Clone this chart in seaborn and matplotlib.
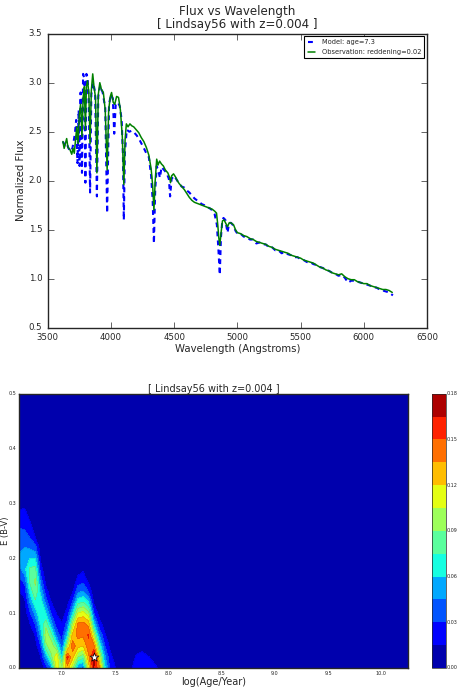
import numpy as np
import pandas as pd
import matplotlib
matplotlib.use('Agg')
import matplotlib.pyplot as plt
import seaborn as sns

# ---- Spectrum: observation (green) ----
obs_wave = [3620, 3630, 3640, 3650, 3660, 3675, 3690, 3700, 3710, 3720, 3730, 3740, 3750, 3760, 3771,
            3780, 3790, 3798, 3806, 3815, 3825, 3835, 3845, 3856, 3866, 3878, 3889, 3900, 3912, 3925,
            3940, 3955, 3970, 3982, 3995, 4005, 4018, 4030, 4045, 4060, 4075, 4090, 4102, 4112, 4122,
            4135, 4150, 4165, 4180, 4200, 4220, 4240, 4260, 4280, 4300, 4318, 4330, 4340, 4350, 4362,
            4372, 4385, 4400, 4415, 4430, 4450, 4465, 4471, 4480, 4495, 4510, 4525, 4540, 4560, 4580,
            4600, 4620, 4640, 4660, 4680, 4700, 4720, 4740, 4760, 4780, 4800, 4820, 4835, 4845, 4853,
            4861, 4872, 4882, 4895, 4910, 4922, 4935, 4950, 4970, 4985,
            5000, 5025, 5050, 5075, 5100, 5125, 5150, 5175, 5200, 5225, 5250, 5275, 5300, 5325, 5350,
            5375, 5400, 5425, 5450, 5475, 5500, 5525, 5550, 5575, 5600, 5625, 5650, 5675, 5700, 5725,
            5750, 5775, 5800, 5825, 5850, 5875, 5900, 5925, 5950, 5975, 6000, 6025, 6050, 6075, 6100,
            6125, 6150, 6175, 6200, 6225]
obs_flux = [2.40, 2.33, 2.38, 2.43, 2.34, 2.32, 2.27, 2.33, 2.28, 2.42, 2.55, 2.38, 2.68, 2.78, 2.45,
            2.85, 2.96, 2.52, 2.96, 3.02, 2.90, 2.38, 2.92, 3.09, 2.96, 2.85, 2.08, 2.88, 3.00, 2.93,
            2.90, 2.72, 2.11, 2.72, 2.86, 2.90, 2.80, 2.78, 2.86, 2.85, 2.72, 2.45, 1.96, 2.42, 2.58,
            2.55, 2.58, 2.56, 2.55, 2.52, 2.49, 2.44, 2.40, 2.34, 2.26, 2.12, 1.95, 1.70, 2.00, 2.22,
            2.16, 2.20, 2.17, 2.15, 2.11, 2.08, 2.03, 1.98, 2.05, 2.07, 2.04, 2.00, 1.97, 1.94, 1.91,
            1.87, 1.83, 1.80, 1.78, 1.77, 1.76, 1.75, 1.74, 1.73, 1.72, 1.71, 1.69, 1.67, 1.55, 1.42,
            1.34, 1.48, 1.59, 1.60, 1.56, 1.53, 1.57, 1.57, 1.55, 1.50,
            1.47, 1.46, 1.44, 1.43, 1.41, 1.40, 1.38, 1.37, 1.36, 1.35, 1.33, 1.32, 1.30, 1.29, 1.28,
            1.27, 1.26, 1.24, 1.23, 1.22, 1.21, 1.19, 1.18, 1.17, 1.16, 1.14, 1.12, 1.11, 1.09, 1.08,
            1.06, 1.05, 1.04, 1.05, 1.02, 1.00, 0.99, 0.99, 0.97, 0.96, 0.95, 0.95, 0.93, 0.92, 0.91,
            0.90, 0.89, 0.89, 0.88, 0.86]

# ---- Spectrum: model (blue dashed) ----
mod_wave = [3620, 3635, 3650, 3665, 3680, 3695, 3705, 3715, 3725, 3735, 3745, 3752, 3760, 3771, 3780,
            3790, 3798, 3806, 3815, 3825, 3835, 3845, 3860, 3875, 3889, 3900, 3915, 3935, 3955, 3970,
            3985, 4000, 4015, 4026, 4038, 4055, 4070, 4085, 4095, 4102, 4110, 4125, 4145, 4165, 4185,
            4205, 4225, 4245, 4265, 4280, 4300, 4318, 4330, 4340, 4350, 4362, 4375, 4388, 4400, 4420,
            4440, 4458, 4468, 4480, 4500, 4520, 4540, 4560, 4580, 4600, 4620, 4640, 4660, 4680, 4700,
            4720, 4740, 4760, 4780, 4800, 4820, 4838, 4850, 4861, 4870, 4880, 4890, 4905, 4922, 4935,
            4950, 4970, 4985,
            5000, 5025, 5050, 5075, 5100, 5125, 5150, 5175, 5200, 5225, 5250, 5275, 5300, 5325, 5350,
            5375, 5400, 5425, 5450, 5475, 5500, 5525, 5550, 5575, 5600, 5625, 5650, 5675, 5700, 5725,
            5750, 5775, 5800, 5825, 5850, 5875, 5900, 5925, 5950, 5975, 6000, 6025, 6050, 6075, 6100,
            6125, 6150, 6175, 6200, 6230]
mod_flux = [2.40, 2.36, 2.38, 2.33, 2.30, 2.33, 2.40, 2.48, 2.62, 2.18, 2.72, 2.15, 2.90, 2.08, 3.09,
            3.04, 1.98, 3.09, 3.06, 2.82, 1.88, 2.88, 3.00, 2.90, 1.84, 2.86, 2.97, 2.90, 2.74, 1.67,
            2.78, 2.88, 2.84, 2.48, 2.78, 2.80, 2.76, 2.62, 2.25, 1.60, 2.28, 2.52, 2.50, 2.51, 2.49,
            2.46, 2.42, 2.37, 2.32, 2.28, 2.24, 2.05, 1.80, 1.36, 1.90, 2.15, 2.10, 2.03, 2.14, 2.11,
            2.08, 2.02, 1.84, 2.02, 2.05, 2.01, 1.97, 1.94, 1.93, 1.90, 1.88, 1.85, 1.82, 1.80, 1.78,
            1.76, 1.75, 1.73, 1.72, 1.70, 1.66, 1.55, 1.30, 1.04, 1.42, 1.58, 1.62, 1.60, 1.47, 1.57,
            1.57, 1.54, 1.49,
            1.46, 1.46, 1.43, 1.42, 1.40, 1.40, 1.36, 1.37, 1.35, 1.35, 1.32, 1.32, 1.29, 1.29, 1.26,
            1.27, 1.25, 1.24, 1.22, 1.22, 1.20, 1.19, 1.17, 1.17, 1.15, 1.14, 1.12, 1.11, 1.09, 1.08,
            1.06, 1.05, 1.03, 1.04, 1.01, 0.96, 0.98, 0.98, 0.97, 0.96, 0.95, 0.94, 0.93, 0.91, 0.91,
            0.89, 0.88, 0.87, 0.86, 0.83]

model_age = 7.3
obs_reddening = 0.02

# ---- Likelihood map (units of 1e-3) ----
# columns: log age 6.60 ... 7.95 (step 0.05); rows: E(B-V) 0.00 ... 0.30 (step 0.02)
block_ages = [6.60, 6.65, 6.70, 6.75, 6.80, 6.85, 6.90, 6.95, 7.00, 7.05, 7.10, 7.15, 7.20, 7.25,
              7.30, 7.35, 7.40, 7.45, 7.50, 7.55, 7.60, 7.65, 7.70, 7.75, 7.80, 7.85, 7.90, 7.95]
block_ebv = [0.00, 0.02, 0.04, 0.06, 0.08, 0.10, 0.12, 0.14, 0.16, 0.18, 0.20, 0.22, 0.24, 0.26, 0.28, 0.30]
prob_milli = [
    [0, 0, 0, 0, 4, 22, 45, 110, 95, 130, 95, 45, 40, 110, 165, 140, 65, 30, 16, 4, 0, 12, 25, 27, 24, 20, 15, 5],
    [0, 0, 0, 2, 15, 50, 85, 120, 60, 155, 125, 90, 80, 130, 172, 110, 50, 20, 9, 1, 0, 5, 18, 22, 17, 12, 6, 0],
    [0, 0, 0, 8, 30, 85, 100, 75, 35, 100, 145, 125, 120, 145, 140, 75, 32, 12, 2, 0, 0, 0, 5, 8, 4, 2, 0, 0],
    [0, 0, 3, 16, 48, 100, 80, 40, 22, 60, 125, 140, 138, 152, 100, 45, 18, 4, 0, 0, 0, 0, 0, 0, 0, 0, 0, 0],
    [0, 2, 14, 30, 65, 85, 50, 22, 16, 35, 95, 138, 140, 130, 60, 22, 8, 0, 0, 0, 0, 0, 0, 0, 0, 0, 0, 0],
    [2, 5, 28, 50, 75, 60, 28, 14, 8, 20, 60, 105, 110, 95, 30, 9, 0, 0, 0, 0, 0, 0, 0, 0, 0, 0, 0, 0],
    [6, 12, 45, 72, 70, 38, 15, 6, 0, 10, 30, 70, 75, 60, 12, 2, 0, 0, 0, 0, 0, 0, 0, 0, 0, 0, 0, 0],
    [15, 20, 65, 88, 55, 20, 6, 0, 0, 0, 12, 40, 45, 28, 3, 0, 0, 0, 0, 0, 0, 0, 0, 0, 0, 0, 0, 0],
    [27, 35, 80, 92, 38, 9, 0, 0, 0, 0, 4, 20, 25, 10, 0, 0, 0, 0, 0, 0, 0, 0, 0, 0, 0, 0, 0, 0],
    [40, 55, 78, 80, 22, 3, 0, 0, 0, 0, 0, 8, 12, 0, 0, 0, 0, 0, 0, 0, 0, 0, 0, 0, 0, 0, 0, 0],
    [47, 58, 60, 60, 12, 0, 0, 0, 0, 0, 0, 0, 3, 0, 0, 0, 0, 0, 0, 0, 0, 0, 0, 0, 0, 0, 0, 0],
    [42, 45, 42, 35, 5, 0, 0, 0, 0, 0, 0, 0, 0, 0, 0, 0, 0, 0, 0, 0, 0, 0, 0, 0, 0, 0, 0, 0],
    [35, 35, 28, 14, 0, 0, 0, 0, 0, 0, 0, 0, 0, 0, 0, 0, 0, 0, 0, 0, 0, 0, 0, 0, 0, 0, 0, 0],
    [28, 27, 18, 6, 0, 0, 0, 0, 0, 0, 0, 0, 0, 0, 0, 0, 0, 0, 0, 0, 0, 0, 0, 0, 0, 0, 0, 0],
    [18, 19, 10, 2, 0, 0, 0, 0, 0, 0, 0, 0, 0, 0, 0, 0, 0, 0, 0, 0, 0, 0, 0, 0, 0, 0, 0, 0],
    [10, 12, 4, 0, 0, 0, 0, 0, 0, 0, 0, 0, 0, 0, 0, 0, 0, 0, 0, 0, 0, 0, 0, 0, 0, 0, 0, 0],
]
best_age = [7.3]
best_ebv = [0.02]

# grid of the full model space (zero outside the block above)
all_ages = np.round(np.arange(6.60, 10.2501, 0.05), 2)
all_ebv = np.round(np.arange(0.0, 0.5001, 0.02), 2)
Z = np.zeros((len(all_ebv), len(all_ages)))
Z[:len(block_ebv), :len(block_ages)] = np.array(prob_milli) / 1000.0

# ---- style ----
plt.style.use('classic')
sns.set_style('ticks', {'xtick.direction': 'in', 'ytick.direction': 'in'})
plt.rcParams['font.family'] = ['DejaVu Sans']
plt.rcParams['figure.facecolor'] = 'white'
plt.rcParams['savefig.facecolor'] = 'white'

fig = plt.figure(figsize=(4.61, 6.92), dpi=100)

# ---- top panel ----
ax1 = fig.add_axes([0.1035, 0.5264, 0.8228, 0.4249])
df_mod = pd.DataFrame({'wave': mod_wave, 'flux': mod_flux})
df_obs = pd.DataFrame({'wave': obs_wave, 'flux': obs_flux})
sns.lineplot(data=df_mod, x='wave', y='flux', ax=ax1, sort=False, estimator=None,
             color='b', linestyle=(0, (3.5, 3)), linewidth=1.5, label='Model: age=%.1f' % model_age)
sns.lineplot(data=df_obs, x='wave', y='flux', ax=ax1, sort=False, estimator=None,
             color='g', linewidth=1.1, label='Observation: reddening=%.2f' % obs_reddening)
ax1.set_xlim(3500, 6500)
ax1.set_ylim(0.5, 3.5)
ax1.set_xticks(range(3500, 6501, 500))
ax1.set_yticks([0.5, 1.0, 1.5, 2.0, 2.5, 3.0, 3.5])
ax1.tick_params(labelsize=6.2, direction='in', top=True, right=True, length=4)
ax1.set_xlabel('Wavelength (Angstroms)', fontsize=7.3, labelpad=1)
ax1.set_ylabel('Normalized Flux', fontsize=7.3, labelpad=2)
ax1.set_title('Flux vs Wavelength\n[ Lindsay56 with z=0.004 ]', fontsize=8.6, pad=4, linespacing=1.05)
leg = ax1.legend(loc='upper right', fontsize=4.8, handlelength=1.6, frameon=True, fancybox=False,
                 borderaxespad=0.4, labelspacing=0.6)
leg.get_frame().set_edgecolor('k')
leg.get_frame().set_linewidth(0.8)

# ---- bottom panel ----
ax2 = fig.add_axes([0.0419, 0.0347, 0.8432, 0.3964])
levels = np.linspace(0.0, 0.18, 13)
cf = ax2.contourf(all_ages, all_ebv, Z, levels=levels, cmap='jet')
ax2.contour(all_ages, all_ebv, Z, levels=levels[1:], colors='k', linewidths=0.2, alpha=0.25)
sns.scatterplot(x=best_age, y=best_ebv, ax=ax2, marker='*', s=45, color='white',
                edgecolor='k', linewidth=0.5, zorder=5)
ax2.set_xlim(6.6, 10.25)
ax2.set_ylim(0.0, 0.5)
ax2.set_xticks([7.0, 7.5, 8.0, 8.5, 9.0, 9.5, 10.0])
ax2.set_yticks([0.0, 0.1, 0.2, 0.3, 0.4, 0.5])
ax2.tick_params(labelsize=3.5, direction='in', top=True, right=True, length=2, pad=2)
ax2.set_xlabel('log(Age/Year)', fontsize=7, labelpad=1)
ax2.set_ylabel('E (B-V)', fontsize=6)
ax2.yaxis.set_label_coords(-0.025, 0.5)
ax2.set_title('[ Lindsay56 with z=0.004 ]', fontsize=7, pad=1.5)

cax = fig.add_axes([0.9377, 0.0347, 0.0291, 0.3964])
cb = fig.colorbar(cf, cax=cax, ticks=[0.0, 0.03, 0.06, 0.09, 0.12, 0.15, 0.18], format='%.2f')
cb.ax.tick_params(labelsize=3.5, length=0, pad=1)
cb.outline.set_linewidth(0.5)

fig.savefig('out.png', dpi=100)
